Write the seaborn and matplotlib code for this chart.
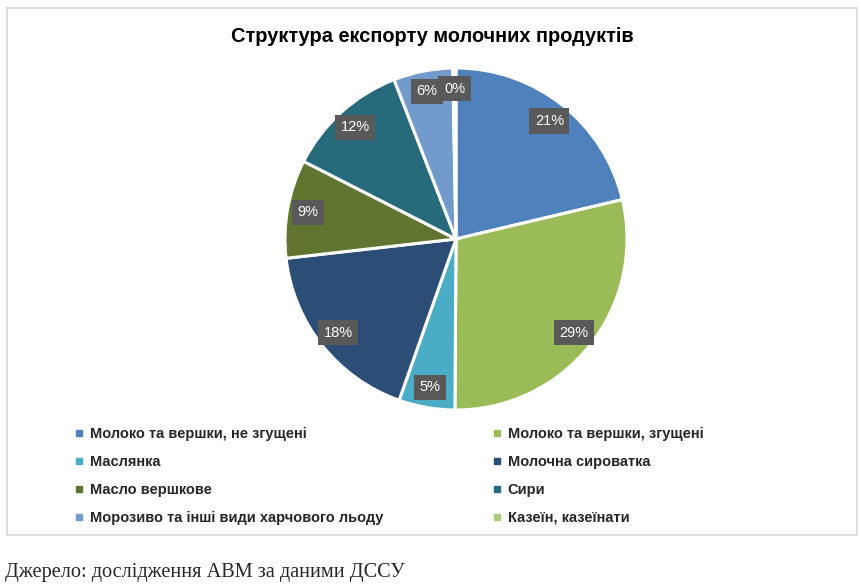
import matplotlib
matplotlib.use("Agg")
import matplotlib.pyplot as plt
from matplotlib.lines import Line2D
from matplotlib.patches import Rectangle
import seaborn as sns

# data
categories = [
    "Молоко та вершки, не згущені",
    "Молоко та вершки, згущені",
    "Маслянка",
    "Молочна сироватка",
    "Масло вершкове",
    "Сири",
    "Морозиво та інші види харчового льоду",
    "Казеїн, казеїнати",
]
shares = [21.3, 28.8, 5.3, 17.8, 9.3, 11.6, 5.6, 0.3]
colors = ["#4F81BD", "#9BBB59", "#4BACC6", "#2C4D75",
          "#5F7530", "#276A7C", "#729ACA", "#AFC97A"]

title = "Структура експорту молочних продуктів"
source = "Джерело: дослідження АВМ за даними ДССУ"

sns.set_theme(style="white")
plt.rcParams["font.family"] = ["Liberation Sans", "DejaVu Sans"]

W, H = 862, 585
fig = plt.figure(figsize=(W / 100, H / 100), dpi=100)

# chart frame
fig.patches.append(Rectangle((7 / W, 1 - 535 / H), 850 / W, 527 / H,
                             transform=fig.transFigure, fill=False,
                             edgecolor="#D9D9D9", linewidth=1.2))

cx, cy, r = 456, 239, 171
ax = fig.add_axes([(cx - r) / W, 1 - (cy + r) / H, 2 * r / W, 2 * r / H])
palette = sns.color_palette(colors)
wedges, texts, autotexts = ax.pie(
    shares, colors=palette, startangle=90, counterclock=False,
    autopct=lambda p: f"{p:.0f}%", pctdistance=0.88, radius=1,
    wedgeprops=dict(edgecolor="white", linewidth=2.2),
    textprops=dict(color="white", fontsize=10.5),
)
for t in autotexts:
    t.set_bbox(dict(boxstyle="square,pad=0.38", facecolor="#595959",
                    edgecolor="none"))
ax.set_xlim(-1, 1)
ax.set_ylim(-1, 1)

fig.text(432 / W, 1 - 37 / H, title, ha="center", va="center",
         fontsize=14.4, fontweight="bold", color="black")

handles = [Line2D([], [], marker="s", linestyle="none", markersize=4.5,
                  markerfacecolor=c, markeredgecolor=c) for c in colors]
legend_kw = dict(frameon=False, loc="upper left", handlelength=0.6,
                 handletextpad=0.45, labelspacing=0.95, borderpad=0,
                 prop=dict(weight="bold", size=10.5))
leg1 = fig.legend(handles[0::2], categories[0::2],
                  bbox_to_anchor=(67 / W, 1 - 420 / H), **legend_kw)
leg2 = fig.legend(handles[1::2], categories[1::2],
                  bbox_to_anchor=(485 / W, 1 - 420 / H), **legend_kw)

fig.text(5 / W, 1 - 573 / H, source, ha="left", va="center", fontsize=14.6,
         family=["Liberation Serif", "DejaVu Serif"])

fig.savefig("out.png", dpi=100)
